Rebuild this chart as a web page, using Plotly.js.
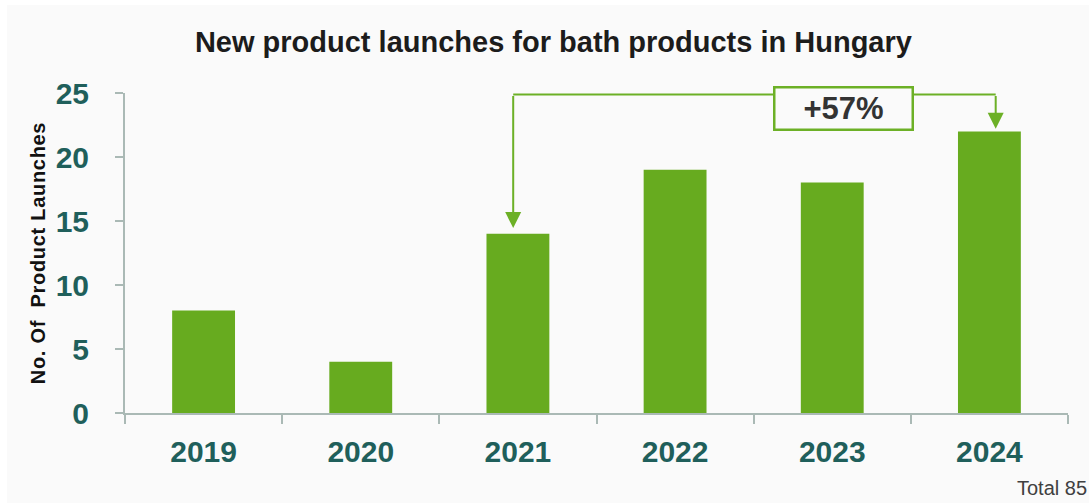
<!DOCTYPE html>
<html>
<head>
<meta charset="utf-8">
<script src="https://cdn.plot.ly/plotly-3.0.1.min.js"></script>
<style>
  html, body { margin: 0; padding: 0; background: #ffffff; }
  #chart { position: absolute; left: 7px; top: 5px; width: 1082px; height: 498px; }
  #chart .ytitle { letter-spacing: 0.7px; }
</style>
</head>
<body>
<div id="chart"></div>
<script>
// ---- data ----
const years = ['2019', '2020', '2021', '2022', '2023', '2024'];
const launches = [8, 4, 14, 19, 18, 22];
const yTickVals = [0, 5, 10, 15, 20, 25];
const chartTitle = 'New product launches for bath products in Hungary';
const yTitle = 'No. Of  Product Launches';

// ---- derived ----
const fromIdx = 2; // 2021
const toIdx = 5;   // 2024
const growthPct = Math.round((launches[toIdx] - launches[fromIdx]) / launches[fromIdx] * 100);
const total = launches.reduce((a, b) => a + b, 0);

const GREEN = '#67ab1f';
const LINE_GREEN = '#6cb026';
const TEAL = '#1f5f5b';
const AXIS = '#aab9b5';
const FONT = 'Liberation Sans, Arial, sans-serif';

const connectorY = 24.88;

const trace = {
  type: 'bar',
  x: years,
  y: launches,
  marker: { color: GREEN, line: { width: 0 } },
  width: 0.4,
  hoverinfo: 'x+y'
};

const layout = {
  width: 1082,
  height: 498,
  margin: { l: 118, r: 21, t: 88, b: 90 },
  paper_bgcolor: '#fafafa',
  plot_bgcolor: '#fafafa',
  showlegend: false,
  title: {
    text: '<b>' + chartTitle + '</b>',
    font: { family: FONT, size: 29, color: '#1c1c1c' },
    x: 0.505, xanchor: 'center', xref: 'container',
    y: 0.926, yanchor: 'middle', yref: 'container'
  },
  xaxis: {
    type: 'category',
    showline: true, linecolor: AXIS, linewidth: 2,
    ticks: 'outside', tickson: 'boundaries', ticklen: 9, tickcolor: AXIS, tickwidth: 2,
    tickfont: { family: FONT, size: 30, color: TEAL, weight: 'bold' },
    ticklabelstandoff: 11,
    showgrid: false, zeroline: false,
    fixedrange: true
  },
  yaxis: {
    range: [0, 25],
    tickvals: yTickVals,
    ticktext: yTickVals.map(String),
    showline: true, linecolor: AXIS, linewidth: 2,
    ticks: 'outside', ticklen: 8, tickcolor: AXIS, tickwidth: 2,
    tickfont: { family: FONT, size: 30, color: TEAL, weight: 'bold' },
    ticklabelstandoff: 20,
    showgrid: false, zeroline: false,
    title: {
      text: '<b>' + yTitle.replace(/ {2}/g, ' &nbsp;') + '</b>',
      font: { family: FONT, size: 20, color: '#111111' },
      standoff: 5
    },
    fixedrange: true
  },
  shapes: [
    {
      type: 'line', xref: 'x', yref: 'y',
      x0: fromIdx - 0.03, x1: toIdx + 0.04,
      y0: connectorY, y1: connectorY,
      line: { color: LINE_GREEN, width: 2 }
    }
  ],
  annotations: [
    {
      xref: 'x', yref: 'y', axref: 'x', ayref: 'y',
      x: fromIdx - 0.03, y: launches[fromIdx] + 0.45,
      ax: fromIdx - 0.03, ay: connectorY,
      text: '', showarrow: true,
      arrowhead: 2, arrowsize: 1.6, arrowwidth: 2, arrowcolor: LINE_GREEN, standoff: 0
    },
    {
      xref: 'x', yref: 'y', axref: 'x', ayref: 'y',
      x: toIdx + 0.04, y: launches[toIdx] + 0.2,
      ax: toIdx + 0.04, ay: connectorY,
      text: '', showarrow: true,
      arrowhead: 2, arrowsize: 1.6, arrowwidth: 2, arrowcolor: LINE_GREEN, standoff: 0
    },
    {
      xref: 'x', yref: 'y',
      x: 4.07, y: 23.77, xanchor: 'center', yanchor: 'middle',
      text: '<b>+' + growthPct + '%</b>',
      font: { family: FONT, size: 31, color: '#333333' },
      showarrow: false,
      bgcolor: '#fafafa', bordercolor: LINE_GREEN, borderwidth: 2.5, borderpad: 1,
      width: 134, height: 38
    },
    {
      xref: 'paper', yref: 'paper',
      x: 1.022, y: -0.193, xanchor: 'right', yanchor: 'top',
      text: 'Total ' + total,
      font: { family: FONT, size: 20, color: '#404040' },
      showarrow: false
    }
  ]
};

Plotly.newPlot('chart', [trace], layout, { displayModeBar: false, staticPlot: true });
</script>
</body>
</html>
